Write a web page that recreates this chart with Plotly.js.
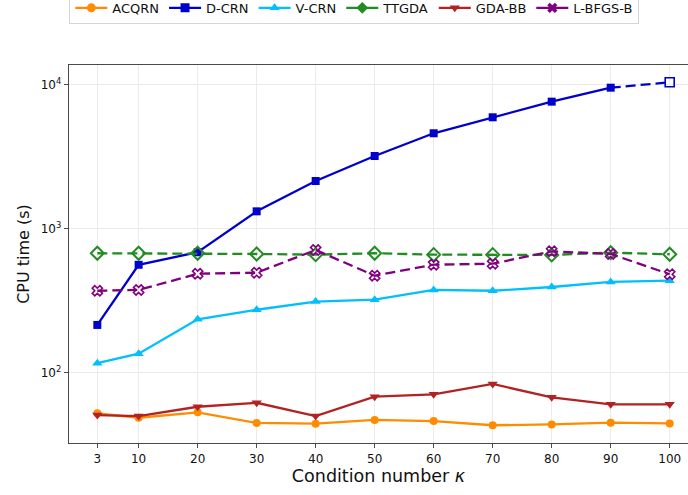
<!DOCTYPE html>
<html>
<head>
<meta charset="utf-8">
<script src="https://cdn.plot.ly/plotly-3.0.1.min.js"></script>
<style>html,body{margin:0;padding:0;background:#fff;}#chart{width:688px;height:495px;}</style>
</head>
<body>
<div id="chart"></div>
<script>
// Condition numbers (x categories) and CPU times (s)
const kappa = [3, 10, 20, 30, 40, 50, 60, 70, 80, 90, 100];
const acqrn = [51.9, 48.4, 52.8, 44.5, 44.0, 46.7, 45.9, 42.9, 43.5, 44.7, 44.2];
const dcrn = [214, 561, 686, 1321, 2148, 3206, 4613, 5958, 7655, 9576, 10440];
const vcrn = [116, 135, 234, 273, 311, 321, 375, 370, 393, 426, 435];
const ttgda = [675, 675, 675, 667, 660, 675, 660, 660, 657, 681, 664];
const gdabb = [50.5, 49.7, 57.7, 61.5, 49.7, 67.8, 70.4, 83.1, 67.1, 60.0, 60.0];
const lbfgsb = [370, 375, 486, 494, 711, 471, 562, 571, 696, 667, 482];
const seriesNames = ["ACQRN", "D-CRN", "V-CRN", "TTGDA", "GDA-BB", "L-BFGS-B"];
const xTickVals = [3, 10, 20, 30, 40, 50, 60, 70, 80, 90, 100];
const yTickVals = [100, 1000, 10000];
const yTickText = ["10<sup>2</sup>", "10<sup>3</sup>", "10<sup>4</sup>"];
const xTitle = "Condition number <i>κ</i>";
const yTitle = "CPU time (s)";

const colors = {ACQRN:"#ff8c00", "D-CRN":"#0000cd", "V-CRN":"#00bfff", TTGDA:"#228b22", "GDA-BB":"#b22222", "L-BFGS-B":"#800080"};
const dash = "10px,5px";
const lw = 2.3;

const nD = dcrn.length;
const traces = [
  {x: kappa, y: acqrn, name: "ACQRN", mode: "lines+markers", showlegend: false,
   line: {color: colors.ACQRN, width: lw}, marker: {symbol: "circle", size: 8, color: colors.ACQRN}},
  {x: kappa.slice(0, nD - 1), y: dcrn.slice(0, nD - 1), name: "D-CRN", mode: "lines+markers", showlegend: false,
   line: {color: colors["D-CRN"], width: lw}, marker: {symbol: "square", size: 8, color: colors["D-CRN"]}},
  {x: kappa.slice(nD - 2), y: dcrn.slice(nD - 2), name: "D-CRN (est.)", mode: "lines", showlegend: false,
   line: {color: colors["D-CRN"], width: lw, dash: dash}},
  {x: kappa.slice(nD - 1), y: dcrn.slice(nD - 1), name: "D-CRN (est.)", mode: "markers", showlegend: false,
   marker: {symbol: "square-open", size: 9, color: colors["D-CRN"], line: {width: 1.6}}},
  {x: kappa, y: vcrn, name: "V-CRN", mode: "lines+markers", showlegend: false,
   line: {color: colors["V-CRN"], width: lw}, marker: {symbol: "triangle-up", size: 9, color: colors["V-CRN"]}},
  {x: kappa, y: ttgda, name: "TTGDA", mode: "lines+markers", showlegend: false,
   line: {color: colors.TTGDA, width: lw, dash: dash}, marker: {symbol: "diamond-open", size: 10, color: colors.TTGDA, line: {width: 2}}},
  {x: kappa, y: gdabb, name: "GDA-BB", mode: "lines+markers", showlegend: false,
   line: {color: colors["GDA-BB"], width: lw}, marker: {symbol: "triangle-down", size: 9, color: colors["GDA-BB"]}},
  {x: kappa, y: lbfgsb, name: "L-BFGS-B", mode: "lines+markers", showlegend: false,
   line: {color: colors["L-BFGS-B"], width: lw, dash: dash}, marker: {symbol: "x-open", size: 9, color: colors["L-BFGS-B"], line: {width: 1.6}}}
];
// Legend-only entries (solid lines, filled markers as in the reference legend)
const legendSymbols = ["circle", "square", "triangle-up", "diamond", "triangle-down", "x"];
seriesNames.forEach((n, i) => {
  traces.push({x: [null], y: [null], name: n, mode: "lines+markers", showlegend: true,
    line: {color: colors[n], width: lw}, marker: {symbol: legendSymbols[i], size: 9, color: colors[n]}});
});

const axisLine = "#4a4a4a";
const layout = {
  width: 688, height: 495,
  margin: {l: 69, r: 0, t: 65, b: 52},
  paper_bgcolor: "#ffffff", plot_bgcolor: "#ffffff",
  font: {family: "DejaVu Sans, sans-serif", size: 12, color: "#111111"},
  showlegend: true,
  legend: {orientation: "h", xref: "container", yref: "container", x: 0.515, xanchor: "center", y: 0.984, yanchor: "middle",
    bgcolor: "#ffffff", bordercolor: "#d6d6d6", borderwidth: 1, font: {size: 13, color: "#111111"},
    itemwidth: 32, tracegroupgap: 0},
  xaxis: {
    range: [-1.8, 103.1], tickvals: xTickVals, ticktext: xTickVals.map(String),
    showline: true, linecolor: axisLine, linewidth: 1.3, mirror: true,
    ticks: "outside", ticklen: 4, tickwidth: 1, tickcolor: axisLine,
    showgrid: true, gridcolor: "#ebebeb", gridwidth: 1, zeroline: false,
    tickfont: {size: 12},
    title: {text: xTitle, font: {size: 17.5}, standoff: 4}
  },
  yaxis: {
    type: "log", range: [1.509, 4.139], tickvals: yTickVals, ticktext: yTickText,
    showline: true, linecolor: axisLine, linewidth: 1.3, mirror: false,
    ticks: "outside", ticklen: 4, tickwidth: 1, tickcolor: axisLine,
    showgrid: true, gridcolor: "#ebebeb", gridwidth: 1, zeroline: false,
    tickfont: {size: 12},
    title: {text: yTitle, font: {size: 16}, standoff: 7}
  }
};
Plotly.newPlot("chart", traces, layout, {displayModeBar: false, staticPlot: true});
</script>
</body>
</html>
